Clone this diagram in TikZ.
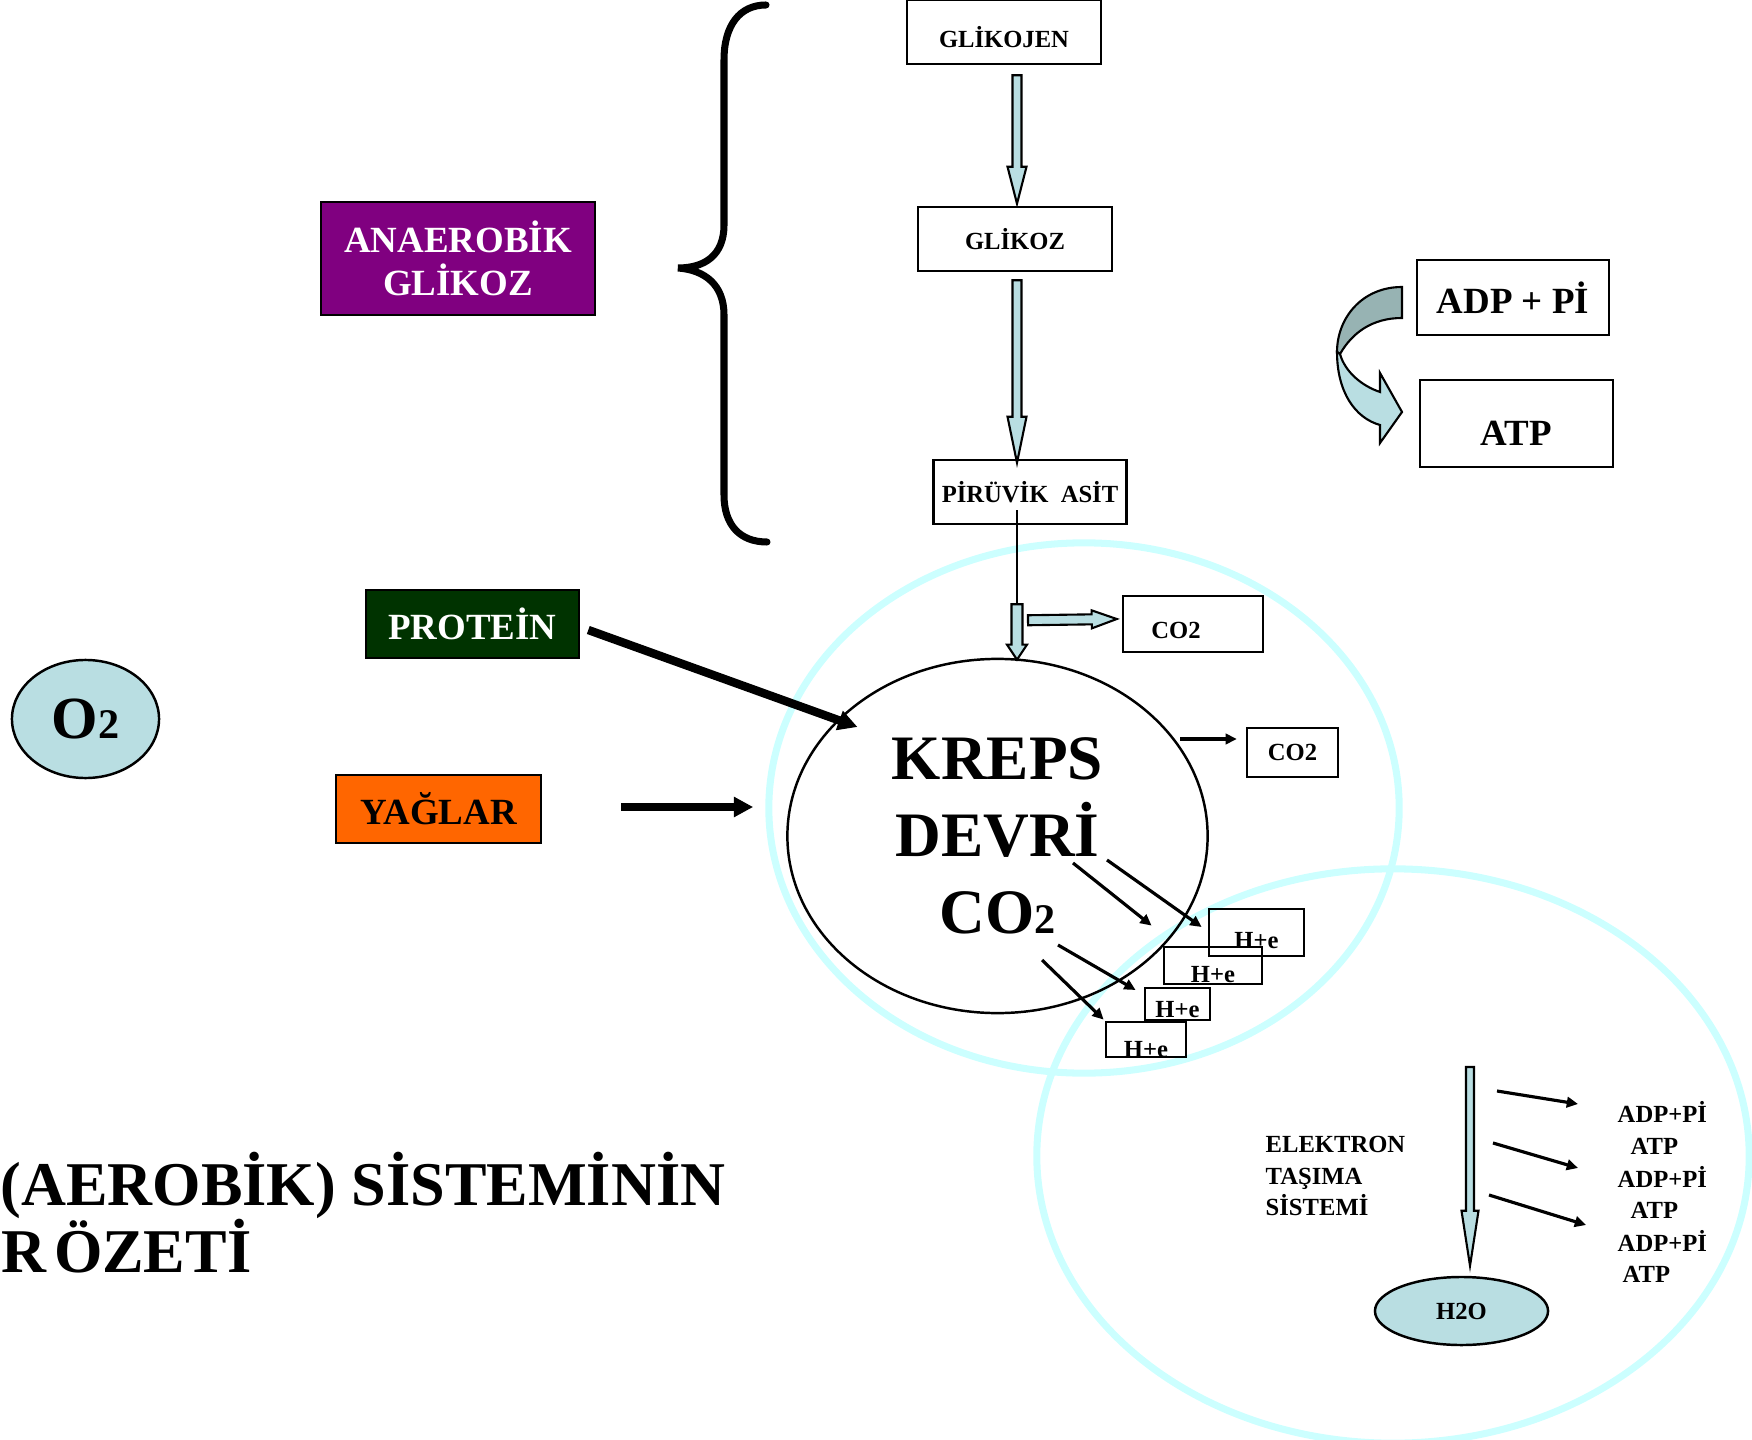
\documentclass[tikz,border=0pt]{standalone}
\usepackage{fontspec}
\setmainfont{Liberation Serif}
\usepackage{tikz}
\usetikzlibrary{calc,positioning,shapes}
\usetikzlibrary{arrows.meta}
\usetikzlibrary{backgrounds}

\definecolor{ringcyan}{RGB}{204,255,255}
\definecolor{paleblue}{HTML}{B9DEE2}
\definecolor{greyteal}{HTML}{97B3B3}
\definecolor{anapurple}{HTML}{800080}
\definecolor{protgreen}{HTML}{003300}
\definecolor{yagorange}{HTML}{FF6600}

% hollow block arrow: from, to, shaft half width, head half width, head length
\newcommand{\fatarrow}[5]{%
  \coordinate (fa-b) at ($(#2)!#5!(#1)$);
  \filldraw[fatarrow] ($(#1)!#3!90:(#2)$) -- ($(fa-b)!#3!90:(#2)$) -- ($(fa-b)!#4!90:(#2)$) -- (#2)
    -- ($(fa-b)!#4!-90:(#2)$) -- ($(fa-b)!#3!-90:(#2)$) -- ($(#1)!#3!-90:(#2)$) -- cycle;
}

\begin{document}
\begin{tikzpicture}[x=0.01cm, y=-0.01cm]
      %%%%%%%%%%%%%%%%%%%%%%%%%%%%%%%%%%%%%%%%%%%%%%%%%%
      %% aerobic system overview
      %%%%%%%%%%%%%%%%%%%%%%%%%%%%%%%%%%%%%%%%%%%%%%%%%%
      \tikzstyle{box} = [draw, line width=0.7pt, rectangle, inner sep=0pt, font=\bfseries\fontsize{7}{8}\selectfont]
      \tikzstyle{bigbox} = [draw, line width=0.7pt, rectangle, inner sep=0pt, font=\bfseries\fontsize{10.5}{12}\selectfont]
      \tikzstyle{colbox} = [draw, line width=0.7pt, rectangle, inner sep=0pt, align=center, font=\bfseries\fontsize{10.5}{12.2}\selectfont]
      \tikzstyle{hebox} = [draw, line width=0.8pt, rectangle, inner sep=0pt, text depth=0pt, font=\bfseries\fontsize{7}{8}\selectfont]
      \tikzstyle{lbl} = [inner sep=0pt, font=\bfseries\fontsize{7}{9}\selectfont]
      \tikzstyle{ring} = [draw=ringcyan, line width=2pt]
      \tikzstyle{fatarrow} = [fill=paleblue, draw=black, line width=0.6pt]
      \tikzstyle{thinarrow} = [line width=0.9pt, -{Triangle[length=3.2pt,width=3pt]}]
      \tikzstyle{thickarrow} = [line width=2.4pt, -{Triangle[length=5.5pt,width=5.5pt]}]
      \useasboundingbox (0,0) rectangle (1752,1440);

      % mitochondrion-like rings
      \draw[ring] (1084,808) ellipse [x radius=3.15cm, y radius=2.65cm];
      \draw[ring] (1393,1156) ellipse [x radius=3.56cm, y radius=2.87cm];

      % glycolysis chain
      \coordinate (axis) at (1017,0);
      \node[box, minimum width=1.94cm, minimum height=0.64cm, text height=0.32cm, text depth=0pt] (glikojen) at (1004,32) {GLİKOJEN};
      \node[box, minimum width=1.94cm, minimum height=0.64cm] (glikoz) at (1015,239) {GLİKOZ};
      \node[box, minimum width=1.93cm, minimum height=0.64cm] (piruvik) at (1030,492) {PİRÜVİK\ \ ASİT};
      \node[colbox, fill=anapurple, text=white, minimum width=2.74cm, minimum height=1.13cm] (anaerobik) at (458,258.5) {ANAEROBİK\\GLİKOZ};
      \draw[line width=2pt, line cap=round] (766,5) .. controls (740,5) and (724,25) .. (724,60) -- (724,225)
        .. controls (724,255) and (705,268) .. (678,268) .. controls (705,270) and (724,285) .. (724,315)
        -- (724,495) .. controls (724,525) and (740,542) .. (767,542);

      \coordinate (g1) at ($(glikojen.south -| axis)+(0,10)$);
      \coordinate (g2) at ($(glikoz.north -| axis)+(0,-2)$);
      \coordinate (g3) at ($(glikoz.south -| axis)+(0,8)$);
      \coordinate (g4) at ($(piruvik.north -| axis)+(0,4)$);
      \fatarrow{g1}{g2}{0.045cm}{0.095cm}{0.37cm}
      \fatarrow{g3}{g4}{0.045cm}{0.095cm}{0.46cm}

      % krebs cycle
      \node[ellipse, draw, line width=0.7pt, minimum width=4.2cm, minimum height=3.54cm, inner sep=0pt, align=center,
        font=\bfseries\fontsize{18}{21.8}\selectfont] (kreps) at (997.5,836) {KREPS\\DEVRİ\\CO{\fontsize{12}{12}\selectfont 2}};
      \coordinate (k1) at ($(piruvik.south -| axis)+(0,79)$);
      \coordinate (k2) at ($(kreps.north -| axis)+(0,2)$);
      \draw[line width=0.7pt] ($(piruvik.south -| axis)+(0,-15)$) -- (k1);
      \fatarrow{k1}{k2}{0.055cm}{0.10cm}{0.15cm}

      \node[box, minimum width=1.40cm, minimum height=0.56cm, text height=0.28cm, text depth=0pt] (co2a) at (1193,624) {CO2\hspace*{0.34cm}};
      \node[box, minimum width=0.91cm, minimum height=0.49cm] (co2b) at (1292.5,752.5) {CO2};
      \coordinate (c1) at ($(k1)+(11,16)$);
      \coordinate (c2) at ($(co2a.west)+(-5,-5)$);
      \fatarrow{c1}{c2}{0.05cm}{0.09cm}{0.25cm}
      \draw[thinarrow] ($(kreps.center)+(182.5,-97)$) -- ($(co2b.west)+(-9,-13.5)$);

      % substrates
      \node[colbox, fill=protgreen, text=white, minimum width=2.13cm, minimum height=0.68cm] (protein) at (472.5,624) {PROTEİN};
      \node[colbox, fill=yagorange, minimum width=2.05cm, minimum height=0.68cm] (yaglar) at (438.5,809) {YAĞLAR};
      \node[ellipse, draw, line width=0.7pt, fill=paleblue, minimum width=1.47cm, minimum height=1.18cm, inner sep=0pt,
        font=\bfseries\fontsize{17}{17}\selectfont] (o2) at (85.5,719) {O{\fontsize{12}{12}\selectfont 2}};
      \draw[thickarrow] ($(protein.east)+(8,6)$) -- ($(kreps.center)+(-140,-109)$);
      \draw[thickarrow] ($(yaglar.east)+(79,-2)$) -- ($(kreps.west)+(-33,-29)$);

      % hydrogen carriers
      \node[hebox, minimum width=0.95cm, minimum height=0.47cm, text height=0.31cm] (heA) at (1256.5,932.5) {H+e};
      \node[hebox, minimum width=0.98cm, minimum height=0.37cm, text height=0.33cm] (heB) at (1213,965.5) {H+e};
      \node[hebox, minimum width=0.65cm, minimum height=0.32cm, text height=0.26cm] (heC) at (1177.5,1004) {H+e};
      \node[hebox, minimum width=0.80cm, minimum height=0.31cm, text height=0.35cm] (heD) at (1146,1039.5) {H+e};
      \draw[thinarrow] ($(kreps.center)+(109.5,24)$) -- ($(heA.west)+(-6,-5.5)$);
      \draw[thinarrow] ($(kreps.center)+(75.5,27)$) -- ($(heB.north west)+(-11,-20)$);
      \draw[thinarrow] ($(kreps.center)+(60.5,109)$) -- ($(heC.west)+(-8,-14)$);
      \draw[thinarrow] ($(kreps.center)+(44.5,124)$) -- ($(heD.north west)+(-1,-1)$);

      % electron transport
      \node[lbl, align=left, anchor=west] (ets) at (1265,1176) {ELEKTRON\\TAŞIMA\\SİSTEMİ};
      \node[ellipse, draw, line width=0.7pt, fill=paleblue, minimum width=1.73cm, minimum height=0.68cm, inner sep=0pt,
        font=\bfseries\fontsize{7}{8}\selectfont] (h2o) at (1461.5,1311) {H2O};
      \coordinate (etstop) at (1470,1067);
      \coordinate (etsend) at ($(h2o.north)+(8.5,-10)$);
      \fatarrow{etstop}{etsend}{0.04cm}{0.085cm}{0.55cm}
      \foreach \n/\y in {1/1122,2/1187,3/1251}
        \node[lbl, anchor=base west] (adp\n) at (1617,\y) {ADP+Pİ};
      \foreach \n/\x/\y in {1/1630/1154,2/1630/1218,3/1622/1282}
        \node[lbl, anchor=base west] (atp\n) at (\x,\y) {ATP};
      \draw[thinarrow] ($(etstop)+(27,24)$) -- ($(adp1.base west)+(-39,-18)$);
      \draw[thinarrow] ($(etstop)+(23,76)$) -- ($(adp2.base west)+(-39,-19)$);
      \draw[thinarrow] ($(etstop)+(19,128)$) -- ($(adp3.base west)+(-31,-26)$);

      % energy
      \node[bigbox, minimum width=1.92cm, minimum height=0.75cm] (adp) at (1513,297.5) {ADP + Pİ};
      \node[bigbox, minimum width=1.93cm, minimum height=0.87cm, text height=0.43cm, text depth=0pt] (atp) at (1516.5,423.5) {ATP};
      \filldraw[fill=greyteal, line width=0.6pt] (1402,287) .. controls (1362,287) and (1337,318) .. (1337,352)
        -- (1340,354) .. controls (1352,333) and (1372,318) .. (1402,318) -- cycle;
      \filldraw[fill=paleblue, line width=0.6pt] (1337,352) .. controls (1337,392) and (1355,418) .. (1380,425)
        -- (1380,443) -- (1402,412) -- (1380,373) -- (1380,392) .. controls (1362,386) and (1345,372) .. (1340,354) -- cycle;

      % title
      \node[inner sep=0pt, anchor=base east, font=\bfseries\fontsize{17.7}{19}\selectfont] (title1) at (726,1205) {(AEROBİK) SİSTEMİNİN};
      \node[inner sep=0pt, anchor=base west, font=\bfseries\fontsize{17.7}{19}\selectfont] (title2) at (1,1272) {\spaceskip=0.12em\relax R ÖZETİ};
    \end{tikzpicture}
\end{document}
